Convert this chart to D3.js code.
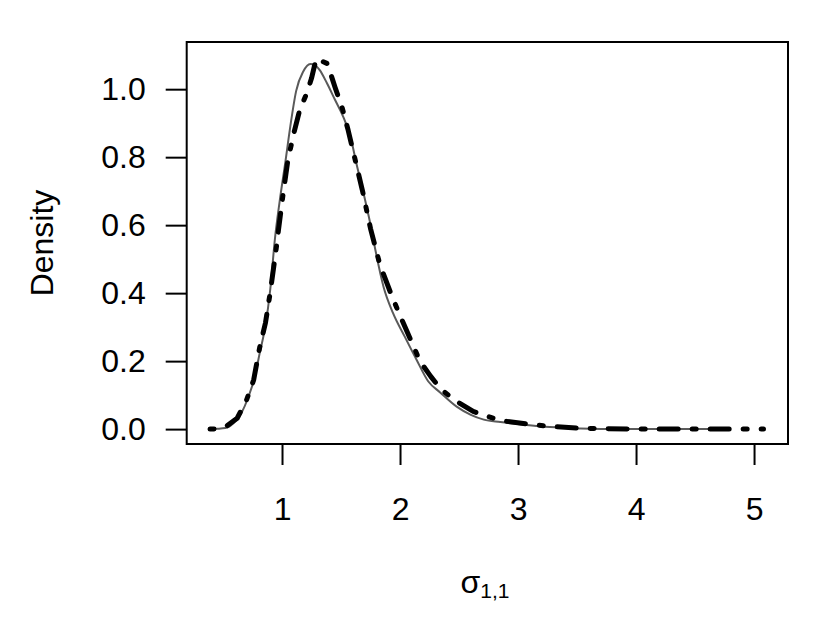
<!DOCTYPE html>
<html>
<head>
<meta charset="utf-8">
<script src="https://cdn.jsdelivr.net/npm/d3@7"></script>
<style>
  body { margin: 0; background: #fff; }
  text { font-family: "Liberation Sans", Arial, Helvetica, sans-serif; }
</style>
</head>
<body>
<div class="main"></div>
<script>
// density curve 1 (solid grey)
var greyX = [0.38, 0.45, 0.52, 0.59, 0.66, 0.71, 0.77, 0.81, 0.86, 0.90, 0.94, 0.98, 1.03, 1.07, 1.12, 1.18, 1.24, 1.28, 1.32, 1.38, 1.45, 1.52, 1.58, 1.63, 1.69, 1.75, 1.79, 1.86, 1.94, 2.04, 2.14, 2.24, 2.34, 2.48, 2.60, 2.71, 2.85, 3.05, 3.27, 3.53, 3.87, 4.20, 4.65];
var greyY = [0.000, 0.001, 0.003, 0.018, 0.050, 0.090, 0.155, 0.222, 0.305, 0.410, 0.560, 0.670, 0.790, 0.890, 0.995, 1.052, 1.074, 1.071, 1.056, 1.018, 0.968, 0.918, 0.860, 0.782, 0.695, 0.601, 0.529, 0.419, 0.342, 0.272, 0.204, 0.140, 0.108, 0.066, 0.042, 0.028, 0.021, 0.013, 0.006, 0.002, 0.000, 0.000, 0.000];

// density curve 2 (black dot-dash)
var blackX = [0.39, 0.45, 0.52, 0.62, 0.70, 0.76, 0.81, 0.86, 0.90, 0.93, 0.955, 0.97, 1.01, 1.05, 1.10, 1.15, 1.21, 1.25, 1.29, 1.38, 1.42, 1.45, 1.51, 1.56, 1.62, 1.68, 1.75, 1.83, 1.92, 1.99, 2.09, 2.17, 2.26, 2.34, 2.45, 2.62, 2.85, 3.08, 3.27, 3.50, 3.73, 4.00, 4.50, 5.08];
var blackY = [0.000, 0.001, 0.006, 0.032, 0.086, 0.145, 0.239, 0.313, 0.402, 0.478, 0.542, 0.586, 0.694, 0.792, 0.870, 0.939, 0.988, 1.032, 1.090, 1.076, 1.037, 1.005, 0.945, 0.880, 0.792, 0.704, 0.590, 0.483, 0.401, 0.342, 0.263, 0.199, 0.155, 0.120, 0.088, 0.052, 0.025, 0.015, 0.008, 0.003, 0.001, 0.000, 0.000, 0.000];

var xTicks = [1, 2, 3, 4, 5];
var yTicks = [0, 0.2, 0.4, 0.6, 0.8, 1.0];

var width = 830;
var height = 623;
var plotLeft = 186.7, plotRight = 788, plotTop = 42, plotBottom = 444;
var fontSize = "32px";

var svg = d3.select(".main")
    .append("svg")
        .attr("width", width)
        .attr("height", height)
        .style("display", "block");

svg.append("rect").attr("width", width).attr("height", height).attr("fill", "#fff");

// R style limits: data range padded by 4% each side
var xr = [0.381, 5.099];
var xPad = (xr[1] - xr[0]) * 0.04;
var yr = [0, 1.095];
var yPad = (yr[1] - yr[0]) * 0.04;

var xScale = d3.scaleLinear()
    .domain([xr[0] - xPad, xr[1] + xPad])
    .range([plotLeft, plotRight]);

var yScale = d3.scaleLinear()
    .domain([yr[0] - yPad, yr[1] + yPad])
    .range([plotBottom, plotTop]);

var xAxis = d3.axisBottom(xScale)
    .tickValues(xTicks)
    .tickFormat(d3.format("d"))
    .tickSize(21)
    .tickPadding(32);

var yAxis = d3.axisLeft(yScale)
    .tickValues(yTicks)
    .tickFormat(d3.format(".1f"))
    .tickSize(21)
    .tickPadding(20);

var xAxisGroup = svg.append("g")
    .attr("transform", "translate(0," + plotBottom + ")")
    .call(xAxis);

var yAxisGroup = svg.append("g")
    .attr("transform", "translate(" + plotLeft + ",0)")
    .call(yAxis);

[xAxisGroup, yAxisGroup].forEach(function (g) {
    g.select(".domain").remove();
    g.selectAll(".tick line").attr("stroke", "#000").attr("stroke-width", 2);
    g.selectAll(".tick text")
        .attr("fill", "#000")
        .style("font-size", fontSize)
        .style("font-family", "'Liberation Sans', Arial, sans-serif");
});

var line = d3.line()
    .x(function (d) { return xScale(d[0]); })
    .y(function (d) { return yScale(d[1]); });

var greyPts = greyX.map(function (v, i) { return [v, greyY[i]]; });
var blackPts = blackX.map(function (v, i) { return [v, blackY[i]]; });

svg.append("path")
    .datum(greyPts)
    .attr("d", line.curve(d3.curveMonotoneX))
    .attr("fill", "none")
    .attr("stroke", "#5a5a5a")
    .attr("stroke-width", 2);

svg.append("path")
    .datum(blackPts)
    .attr("d", line.curve(d3.curveLinear))
    .attr("fill", "none")
    .attr("stroke", "#000")
    .attr("stroke-width", 5)
    .attr("stroke-linecap", "round")
    .attr("stroke-linejoin", "round")
    .attr("stroke-dasharray", "4,14,19,14");

// box
svg.append("rect")
    .attr("x", plotLeft)
    .attr("y", plotTop)
    .attr("width", plotRight - plotLeft)
    .attr("height", plotBottom - plotTop)
    .attr("fill", "none")
    .attr("stroke", "#000")
    .attr("stroke-width", 2);

// axis titles
svg.append("text")
    .attr("transform", "translate(53," + ((plotTop + plotBottom) / 2) + ") rotate(-90)")
    .attr("text-anchor", "middle")
    .style("font-size", fontSize)
    .text("Density");

var xt = svg.append("text")
    .attr("x", 485)
    .attr("y", 593)
    .attr("text-anchor", "middle")
    .style("font-size", fontSize);
xt.append("tspan").text("σ");
xt.append("tspan").attr("dy", 5).style("font-size", "21px").text("1,1");
</script>
</body>
</html>
